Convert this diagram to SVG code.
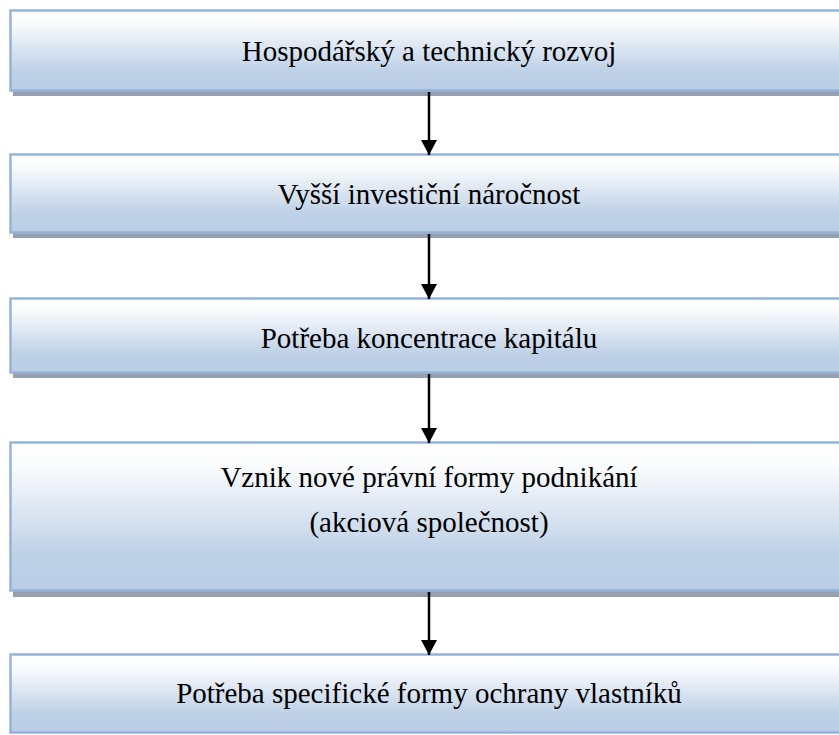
<svg xmlns="http://www.w3.org/2000/svg" width="839" height="735" viewBox="0 0 839 735">
<defs>
<linearGradient id="g" x1="0" y1="0" x2="0" y2="1">
<stop offset="0" stop-color="#ffffff"/>
<stop offset="0.15" stop-color="#fbfcfd"/>
<stop offset="0.75" stop-color="#bfd1e7"/>
<stop offset="1" stop-color="#b9cde5"/>
</linearGradient>
<marker id="ah" markerWidth="16" markerHeight="16" refX="15" refY="8" orient="auto" markerUnits="userSpaceOnUse">
<path d="M0,0 L15,8 L0,16 Z" fill="#000"/>
</marker>
<style>
.sh{fill:#95a0b2}
.bx{fill:url(#g);stroke:#95b3d7;stroke-width:2.5}
.t{font-family:"Liberation Serif","Times New Roman",serif;font-size:29px;fill:#000;text-anchor:middle}
.c{stroke:#000;stroke-width:2.5;fill:none}
</style>
</defs>
<g id="node1">
<rect class="sh" x="13" y="14" width="840" height="82"/>
<rect class="bx" x="10.5" y="10.5" width="840" height="80"/>
<text class="t" x="429" y="61">Hospodářský a technický rozvoj</text>
</g>
<g id="node2">
<rect class="sh" x="13" y="158" width="840" height="80"/>
<rect class="bx" x="10.5" y="154.5" width="840" height="78"/>
<text class="t" x="429" y="204">Vyšší investiční náročnost</text>
</g>
<g id="node3">
<rect class="sh" x="13" y="302" width="840" height="76"/>
<rect class="bx" x="10.5" y="298.5" width="840" height="74"/>
<text class="t" x="429" y="348">Potřeba koncentrace kapitálu</text>
</g>
<g id="node4">
<rect class="sh" x="13" y="446" width="840" height="151"/>
<rect class="bx" x="10.5" y="442.5" width="840" height="148"/>
<text class="t" x="429" y="487">Vznik nové právní formy podnikání</text>
<text class="t" x="429" y="532">(akciová společnost)</text>
</g>
<g id="node5">
<rect class="bx" x="10.5" y="654.5" width="840" height="78"/>
<text class="t" x="429" y="703">Potřeba specifické formy ochrany vlastníků</text>
</g>
<g id="connectors">
<line class="c" x1="429" y1="92" x2="429" y2="155" marker-end="url(#ah)"/>
<line class="c" x1="429" y1="234" x2="429" y2="299" marker-end="url(#ah)"/>
<line class="c" x1="429" y1="374" x2="429" y2="443" marker-end="url(#ah)"/>
<line class="c" x1="429" y1="592" x2="429" y2="655" marker-end="url(#ah)"/>
</g>
</svg>
